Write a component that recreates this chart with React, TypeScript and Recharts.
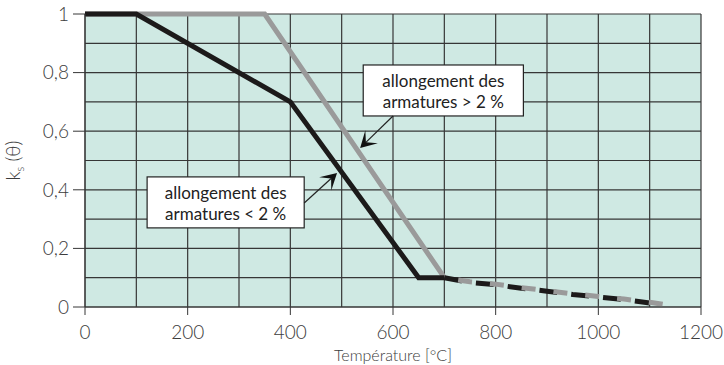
import {
  LineChart,
  Line,
  XAxis,
  YAxis,
  CartesianGrid,
  ReferenceArea,
  ReferenceLine,
} from "recharts";

// courbes k_s(θ)
const TEMP_GRAY = [0, 350, 700];
const KS_GRAY = [1, 1, 0.1];

const TEMP_BLACK = [0, 100, 400, 650, 700];
const KS_BLACK = [1, 1, 0.7, 0.1, 0.1];

// partie en pointillés (> 700 °C)
const TEMP_TAIL = [700, 750, 800, 850, 900, 950, 1000, 1050, 1100, 1130];
const KS_TAIL_GRAY = [0.1, 0.086, 0.078, 0.066, 0.056, 0.045, 0.036, 0.027, 0.016, 0.008];
const KS_TAIL_BLACK = [0.1, 0.084, 0.076, 0.064, 0.054, 0.043, 0.034, 0.025, 0.014];

const X_TICKS = [0, 200, 400, 600, 800, 1000, 1200];
const Y_TICKS = [0, 0.2, 0.4, 0.6, 0.8, 1];
const X_GRID = [0, 100, 200, 300, 400, 500, 600, 700, 800, 900, 1000, 1100, 1200];
const Y_GRID = [0, 0.1, 0.2, 0.3, 0.4, 0.5, 0.6, 0.7, 0.8, 0.9, 1];

const LABEL_SUP = ["allongement des", "armatures > 2 %"];
const LABEL_INF = ["allongement des", "armatures < 2 %"];

const toPoints = (xs: number[], ys: number[]) => ys.map((k, i) => ({ t: xs[i], k }));

const FONT = "Lato, 'Open Sans', 'DejaVu Sans', sans-serif";
const TEXT = "#3c3c3c";
const GRID = "#363636";

const boxShape = (lines: string[]) => (p: any) => {
  const { x, y, width, height } = p;
  return (
    <g>
      <rect x={x} y={y} width={width} height={height} fill="#fff" stroke="#222" strokeWidth={1.2} />
      {lines.map((l, i) => (
        <text
          key={i}
          x={x + width / 2}
          y={y + 22 + i * 21.5}
          textAnchor="middle"
          fontFamily={FONT}
          fontSize={17}
          fill="#222"
        >
          {l}
        </text>
      ))}
    </g>
  );
};

// flèche : trait fin + pointe pleine
const arrowShape = (p: any) => {
  const { x1, y1, x2, y2 } = p;
  const len = Math.hypot(x2 - x1, y2 - y1) || 1;
  const dx = (x2 - x1) / len;
  const dy = (y2 - y1) / len;
  const nx = -dy;
  const ny = dx;
  const L = 16;
  const W = 9;
  const bx = x2 - dx * L;
  const by = y2 - dy * L;
  const mx = x2 - dx * L * 0.5;
  const my = y2 - dy * L * 0.5;
  const pts = [
    [x2, y2],
    [bx + nx * W, by + ny * W],
    [mx, my],
    [bx - nx * W, by - ny * W],
  ]
    .map((q) => q.join(","))
    .join(" ");
  return (
    <g>
      <line x1={x1} y1={y1} x2={mx} y2={my} stroke="#222" strokeWidth={1.2} />
      <polygon points={pts} fill="#111" />
    </g>
  );
};

export default function App() {
  return (
    <div style={{ position: "absolute", left: 0, top: 0, background: "#fff" }}>
      <LineChart width={724} height={365} margin={{ top: 14, right: 23, bottom: 0, left: 0 }}>
        <CartesianGrid
          verticalValues={X_GRID}
          horizontalValues={Y_GRID}
          fill="#cfe9e3"
          fillOpacity={1}
          stroke={GRID}
          strokeWidth={1.2}
        />
        <XAxis
          type="number"
          dataKey="t"
          domain={[0, 1200]}
          ticks={X_TICKS}
          height={58}
          tickSize={8}
          tickMargin={11}
          stroke={GRID}
          tick={{ fill: TEXT, fontSize: 19, fontFamily: FONT, fontWeight: 300 }}
          label={{
            content: (p: any) => (
              <text
                x={p.viewBox.x + p.viewBox.width / 2}
                y={p.viewBox.y + 54}
                textAnchor="middle"
                fontFamily={FONT}
                fontWeight={300}
                fontSize={16}
                fill={TEXT}
              >
                Température [°C]
              </text>
            ),
          }}
        />
        <YAxis
          type="number"
          domain={[0, 1]}
          ticks={Y_TICKS}
          width={85}
          tickSize={12}
          tickMargin={4}
          stroke={GRID}
          tickFormatter={(v: number) => String(v).replace(".", ",")}
          tick={{ fill: TEXT, fontSize: 19, fontFamily: FONT, fontWeight: 300 }}
          label={{
            content: (p: any) => {
              const cx = 20;
              const cy = p.viewBox.y + p.viewBox.height / 2;
              return (
                <text
                  x={cx}
                  y={cy}
                  transform={`rotate(-90, ${cx}, ${cy})`}
                  textAnchor="middle"
                  fontFamily={FONT}
                  fontWeight={300}
                  fontSize={19}
                  fill={TEXT}
                >
                  k
                  <tspan fontSize={11} dy={4}>
                    s
                  </tspan>
                  <tspan dy={-4}> (θ)</tspan>
                </text>
              );
            },
          }}
        />

        <Line
          data={toPoints(TEMP_GRAY, KS_GRAY)}
          dataKey="k"
          stroke="#9a9a9a"
          strokeWidth={5}
          dot={false}
          strokeLinejoin="miter"
          isAnimationActive={false}
        />
        <Line
          data={toPoints(TEMP_BLACK, KS_BLACK)}
          dataKey="k"
          stroke="#1c1a1a"
          strokeWidth={5}
          dot={false}
          strokeLinejoin="miter"
          isAnimationActive={false}
        />
        <Line
          data={toPoints(TEMP_TAIL, KS_TAIL_BLACK)}
          dataKey="k"
          stroke="#1c1a1a"
          strokeWidth={5}
          strokeDasharray="18 14"
          dot={false}
          isAnimationActive={false}
        />
        <Line
          data={toPoints(TEMP_TAIL, KS_TAIL_GRAY)}
          dataKey="k"
          stroke="#9a9a9a"
          strokeWidth={5}
          strokeDasharray="14 18"
          strokeDashoffset={-14}
          dot={false}
          isAnimationActive={false}
        />

        <ReferenceArea x1={542} x2={854} y1={0.652} y2={0.826} shape={boxShape(LABEL_SUP)} />
        <ReferenceArea x1={121} x2={427} y1={0.27} y2={0.444} shape={boxShape(LABEL_INF)} />
        <ReferenceLine
          segment={[
            { x: 600, y: 0.652 },
            { x: 536, y: 0.543 },
          ]}
          shape={arrowShape}
        />
        <ReferenceLine
          segment={[
            { x: 427, y: 0.355 },
            { x: 491, y: 0.457 },
          ]}
          shape={arrowShape}
        />
      </LineChart>
    </div>
  );
}
